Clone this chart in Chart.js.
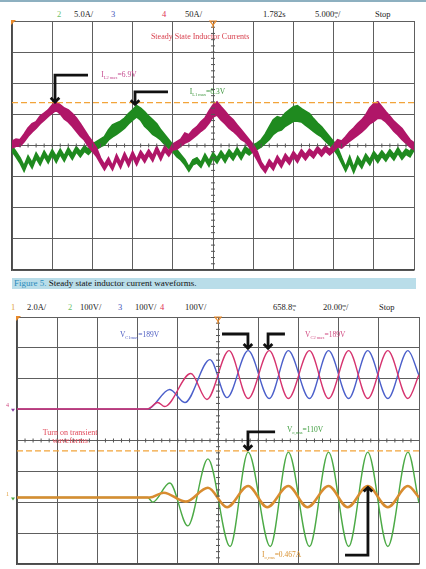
<!DOCTYPE html>
<html>
<head>
<meta charset="utf-8">
<script src="https://cdn.jsdelivr.net/npm/chart.js@4.4.1/dist/chart.umd.min.js"></script>
<style>
  body { margin:0; width:426px; height:569px; background:#fff; position:relative; overflow:hidden; font-family:"Liberation Serif", "DejaVu Serif", serif; }
  .topline { position:absolute; left:0; top:0; width:426px; height:2px; background:#8db0c0; }
  .hdr { position:absolute; font-size:8.5px; line-height:10px; color:#222; white-space:nowrap; }
  .frac { display:inline-block; font-size:5px; line-height:4px; vertical-align:middle; text-align:center; }
  canvas { position:absolute; left:0; }
  #caption { position:absolute; left:12px; top:278px; width:404px; height:11px; background:#b9dde9; font-size:9px; line-height:11px; color:#111; white-space:nowrap; }
  #caption b { font-weight:normal; color:#2a8cbc; padding-left:2px; }
</style>
</head>
<body>
<div class="topline"></div>

<!-- top scope header -->
<div class="hdr" style="left:57px;top:9px;color:#6cbf6c">2</div>
<div class="hdr" style="left:74px;top:9px">5.0A/</div>
<div class="hdr" style="left:111px;top:9px;color:#4455bb">3</div>
<div class="hdr" style="left:162px;top:9px;color:#e03050">4</div>
<div class="hdr" style="left:185px;top:9px">50A/</div>
<div class="hdr" style="left:263px;top:9px">1.782s</div>
<div class="hdr" style="left:315px;top:9px">5.000<span class="frac">m<br>s</span>/</div>
<div class="hdr" style="left:375px;top:9px">Stop</div>
<canvas id="topScope" width="426" height="254" style="top:19px"></canvas>

<div id="caption"><b>Figure 5.</b> Steady state inductor current waveforms.</div>

<!-- bottom scope header -->
<div class="hdr" style="left:11px;top:302px;color:#e0a040">1</div>
<div class="hdr" style="left:27px;top:302px">2.0A/</div>
<div class="hdr" style="left:68px;top:302px;color:#6cbf6c">2</div>
<div class="hdr" style="left:80px;top:302px">100V/</div>
<div class="hdr" style="left:118px;top:302px;color:#4455bb">3</div>
<div class="hdr" style="left:135px;top:302px">100V/</div>
<div class="hdr" style="left:160px;top:302px;color:#e03050">4</div>
<div class="hdr" style="left:185px;top:302px">100V/</div>
<div class="hdr" style="left:273px;top:302px">658.8<span class="frac">m<br>s</span></div>
<div class="hdr" style="left:323px;top:302px">20.00<span class="frac">m<br>s</span>/</div>
<div class="hdr" style="left:379px;top:302px">Stop</div>
<canvas id="bottomScope" width="426" height="252" style="top:315px"></canvas>

<script>
// ------ TOP SCOPE: steady state inductor currents (5 ms/div, 5 A/div) ------
// samples every 0.5 ms, upper and lower edge of each (noisy) trace, in A
const topStep = 0.5;
const il2Upper = [0.7,1.0,0.9,1.8,2.8,3.5,3.8,4.7,5.2,5.7,6.5,7.0,6.5,6.0,5.7,5.1,4.4,3.5,2.5,1.5,0.6,-0.4,
  -2.0,-3.1,-2.0,-3.3,-1.5,-2.8,-1.2,-2.5,-1.0,-2.3,-0.9,-1.8,-0.7,-1.7,-0.2,-1.5,-0.1,-0.9,0.2,
  0.6,1.0,2.0,1.7,2.5,3.0,3.8,4.4,5.5,6.5,7.0,6.2,5.5,4.7,4.1,3.3,2.5,1.7,0.9,0.1,-1.0,
  -2.7,-3.6,-2.3,-3.1,-1.7,-2.7,-1.4,-2.2,-1.0,-1.8,-0.7,-1.5,-0.6,-1.2,-0.2,-0.9,-0.1,-0.7,0.1,
  0.9,0.7,1.4,2.2,2.8,3.5,4.1,4.9,6.0,6.7,7.0,6.2,5.4,4.7,3.9,3.3,2.7,1.8,0.9,0.4];
const il2Lower = [-0.4,-0.1,-0.1,0.6,1.5,2.2,2.8,3.5,4.1,4.7,5.2,5.7,5.1,4.3,3.8,3.1,2.3,1.5,0.9,-0.1,-0.9,-1.7,
  -2.8,-3.9,-2.8,-3.9,-2.3,-3.6,-2.0,-3.3,-1.8,-3.1,-1.7,-2.7,-1.5,-2.5,-1.0,-2.3,-0.9,-1.7,-0.7,
  -0.6,-0.1,0.4,0.7,1.2,1.7,2.3,2.8,3.6,4.6,4.9,4.1,3.5,2.8,2.3,1.7,1.0,0.6,-0.2,-1.2,-2.3,
  -3.5,-4.3,-3.1,-3.9,-2.5,-3.5,-2.2,-3.0,-1.8,-2.7,-1.5,-2.3,-1.4,-2.0,-1.0,-1.7,-0.9,-1.5,-0.9,
  -0.2,-0.4,0.2,0.7,1.2,1.7,2.2,2.8,3.5,3.9,4.4,4.3,3.8,3.1,2.3,1.7,1.0,0.4,-0.2,-0.7];
const il1Upper = [-0.1,-1.0,-2.0,-3.3,-1.7,-2.8,-1.2,-2.3,-0.9,-2.0,-0.7,-1.8,-0.6,-1.7,-0.4,-1.4,-0.2,-1.0,-0.1,-0.6,0.2,
  0.6,1.0,1.4,2.5,3.3,3.6,3.9,4.4,5.1,5.7,6.4,6.0,5.4,4.7,4.1,3.5,2.5,1.7,0.9,0.1,-0.7,
  -1.5,-2.3,-3.5,-2.3,-2.0,-2.8,-1.4,-2.5,-1.2,-2.0,-0.9,-1.8,-0.7,-1.5,-0.4,-1.4,-0.2,-0.7,0.1,
  0.4,0.9,1.8,3.0,4.1,4.6,4.4,5.2,5.7,6.2,6.4,5.9,5.5,5.1,4.3,3.6,3.0,2.2,1.4,0.6,-0.4,
  -2.0,-3.5,-1.8,-3.6,-1.8,-2.8,-1.4,-2.3,-1.0,-1.8,-0.9,-1.7,-0.7,-1.5,-0.4,-1.4,-0.6,-1.0,0.1];
const il1Lower = [-0.9,-1.8,-2.8,-4.1,-2.5,-3.6,-2.0,-3.1,-1.7,-2.8,-1.5,-2.7,-1.4,-2.5,-1.2,-2.2,-1.0,-1.8,-0.9,-1.4,-0.7,
  -0.6,-0.2,0.1,0.9,1.4,1.8,2.3,2.8,3.5,4.1,4.6,4.1,3.1,2.5,1.8,1.4,0.9,0.2,-0.4,-1.0,-1.8,
  -2.3,-3.1,-4.1,-3.1,-2.8,-3.5,-2.2,-3.3,-2.0,-2.8,-1.7,-2.7,-1.5,-2.3,-1.2,-2.2,-1.0,-1.5,-0.9,
  -0.6,-0.2,0.4,1.0,1.8,2.3,2.5,3.1,3.5,3.9,3.9,3.8,3.3,2.8,2.3,1.8,1.4,0.7,0.1,-0.6,-1.5,
  -2.8,-4.1,-2.7,-4.3,-2.7,-3.6,-2.2,-3.1,-1.8,-2.7,-1.7,-2.5,-1.5,-2.3,-1.2,-2.2,-1.4,-1.8,-0.7];
const il2Cursor = 6.9;

// ------ BOTTOM SCOPE: turn on transient (20 ms/div) ------
const vc2Time  = [0, 65, 70, 73.5, 86.5, 94.5, 105.5, 115, 125.5, 135, 145.5, 155, 165, 174.5, 184.5, 194.5, 200];
const vc2Volts = [0, 0, 21, 8, 115, 31, 189, 34, 189, 34, 189, 34, 189, 34, 189, 34, 111];
const vc1Time  = [0, 65, 76, 83.5, 96, 104.5, 115, 125.5, 135, 145.5, 155, 165, 174.5, 184.5, 194.5, 200];
const vc1Volts = [0, 0, 63, 21, 160, 37, 189, 34, 189, 34, 189, 34, 189, 34, 189, 109];
const voTime   = [0, 65, 67.5, 76, 85, 95, 106, 115, 126, 135, 145.5, 155, 165, 174.5, 184.5, 194.5, 200];
const voVolts  = [0, 0, -15, 47, -92, 125, -159, 147, -159, 147, -159, 147, -159, 147, -159, 147, -18];
const ioTime   = [0, 66, 73, 84, 95, 104.5, 115, 124.5, 135, 144.5, 155, 164.5, 174.5, 184.5, 194.5, 200];
const ioAmps   = [0, 0, 0.31, -0.27, 0.63, -0.63, 0.74, -0.63, 0.74, -0.63, 0.74, -0.63, 0.74, -0.63, 0.74, 0];
const voCursor = 151;

const serif = '"Liberation Serif", serif';

function stepped(vals) {
  return vals.map((v, i) => ({ x: i * topStep, y: v }));
}
function paired(ts, vs) {
  return ts.map((t, i) => ({ x: t, y: vs[i] }));
}

function gridAxis(min, max, step, pos) {
  return {
    type: 'linear', position: pos, min: min, max: max,
    ticks: { display: false, stepSize: step },
    grid: { color: '#5e5e5e', lineWidth: 1, drawTicks: false },
    border: { color: '#4a4a4a', width: 1.5 }
  };
}

function line(ctx, x1, y1, x2, y2) {
  ctx.beginPath(); ctx.moveTo(x1, y1); ctx.lineTo(x2, y2); ctx.stroke();
}

// center-axis minor ticks, markers, arrows and labels
const scopeExtras = {
  id: 'scopeExtras',
  afterDraw(chart, args, opts) {
    const ctx = chart.ctx, a = chart.chartArea;
    const xs = chart.scales.x, ys = chart.scales.y;
    const cx = (a.left + a.right) / 2, cy = (a.top + a.bottom) / 2;
    ctx.save();
    ctx.strokeStyle = '#555'; ctx.lineWidth = 1;
    const dx = (a.right - a.left) / 50, dy = (a.bottom - a.top) / 40;
    for (let i = 1; i < 50; i++) line(ctx, a.left + i * dx, cy - 2, a.left + i * dx, cy + 2);
    for (let i = 1; i < 40; i++) line(ctx, cx - 2, a.top + i * dy, cx + 2, a.top + i * dy);

    // trigger markers
    ctx.fillStyle = '#e8892a';
    ctx.beginPath(); ctx.moveTo(a.left - 1, a.top - 1); ctx.lineTo(a.left + 4, a.top - 1); ctx.lineTo(a.left - 1, a.top + 4); ctx.fill();
    ctx.strokeStyle = '#e8892a'; ctx.lineWidth = 1.2;
    ctx.beginPath(); ctx.moveTo(cx - 3, a.top); ctx.lineTo(cx + 3, a.top); ctx.lineTo(cx, a.top + 4); ctx.closePath(); ctx.stroke();
    line(ctx, cx, a.top + 4, cx, a.top + 7);

    // arrows
    ctx.strokeStyle = '#111'; ctx.lineWidth = 2.8; ctx.lineJoin = 'miter'; ctx.lineCap = 'butt';
    (opts.arrows || []).forEach(pts => {
      const p = pts.map(q => [xs.getPixelForValue(q[0]), ys.getPixelForValue(q[1])]);
      ctx.beginPath(); ctx.moveTo(p[0][0], p[0][1]);
      for (let i = 1; i < p.length; i++) ctx.lineTo(p[i][0], p[i][1]);
      ctx.stroke();
      const e = p[p.length - 1], s = p[p.length - 2];
      const ang = Math.atan2(e[1] - s[1], e[0] - s[0]);
      ctx.beginPath();
      ctx.moveTo(e[0] - 6 * Math.cos(ang - 0.8), e[1] - 6 * Math.sin(ang - 0.8));
      ctx.lineTo(e[0], e[1]);
      ctx.lineTo(e[0] - 6 * Math.cos(ang + 0.8), e[1] - 6 * Math.sin(ang + 0.8));
      ctx.stroke();
    });

    // labels
    ctx.textBaseline = 'middle';
    (opts.labels || []).forEach(l => {
      let x = xs.getPixelForValue(l.x);
      const y = ys.getPixelForValue(l.y);
      ctx.fillStyle = l.color;
      ctx.font = (l.size || 7.5) + 'px ' + serif;
      if (l.center) { ctx.textAlign = 'center'; ctx.fillText(l.text, x, y); return; }
      ctx.textAlign = 'left';
      ctx.fillText(l.text, x, y);
      x += ctx.measureText(l.text).width;
      if (l.sub) {
        ctx.font = '4.5px ' + serif;
        ctx.fillText(l.sub, x, y + 2.5);
        x += ctx.measureText(l.sub).width;
        ctx.font = (l.size || 7.5) + 'px ' + serif;
        ctx.fillText(l.rest, x, y);
      }
    });

    // channel ground markers on the left edge
    (opts.grounds || []).forEach(g => {
      const y = ys.getPixelForValue(g.y);
      ctx.font = '6px ' + serif; ctx.textAlign = 'left';
      ctx.fillStyle = g.color; ctx.fillText(g.text, a.left - 11, y - 3);
      ctx.fillStyle = g.mark;
      ctx.beginPath(); ctx.moveTo(a.left - 6, y); ctx.lineTo(a.left - 2, y); ctx.lineTo(a.left - 4, y + 3); ctx.fill();
    });
    ctx.restore();
  }
};

// ------ top chart ------
new Chart(document.getElementById('topScope'), {
  type: 'line',
  data: {
    datasets: [
      { data: [{ x: 0, y: il2Cursor }, { x: 50, y: il2Cursor }], borderColor: '#f2a43a', borderWidth: 1.2, borderDash: [6, 3] },
      { data: stepped(il2Upper), borderColor: '#b01668', borderWidth: 1.8, fill: false },
      { data: stepped(il2Lower), borderColor: '#b01668', borderWidth: 1.8, fill: '-1', backgroundColor: '#b01668' },
      { data: stepped(il1Upper), borderColor: '#1f8a1f', borderWidth: 1.8, fill: false },
      { data: stepped(il1Lower), borderColor: '#1f8a1f', borderWidth: 1.8, fill: '-1', backgroundColor: '#1f8a1f' }
    ]
  },
  options: {
    responsive: false, animation: false,
    layout: { padding: { left: 12, right: 12, top: 2, bottom: 3 } },
    elements: { point: { radius: 0 }, line: { tension: 0 } },
    scales: {
      x: gridAxis(0, 50, 5, 'bottom'),
      y: gridAxis(-20, 20, 5, 'left')
    },
    plugins: {
      legend: { display: false }, tooltip: { enabled: false },
      scopeExtras: {
        arrows: [
          [[9.45, 11.3], [5.35, 11.3], [5.35, 7.0]],
          [[19.4, 8.6], [15.3, 8.6], [15.3, 6.6]]
        ],
        labels: [
          { x: 23.4, y: 17.4, text: 'Steady State Inductor Currents', color: '#d8404e', size: 8, center: true },
          { x: 11.1, y: 11.3, text: 'I', sub: 'L2 max', rest: '=6.9V', color: '#c4488e' },
          { x: 22.1, y: 8.6, text: 'I', sub: 'L1 max', rest: '=6.3V', color: '#3a943a' }
        ]
      }
    }
  },
  plugins: [scopeExtras]
});

// ------ bottom chart ------
new Chart(document.getElementById('bottomScope'), {
  type: 'line',
  data: {
    datasets: [
      { data: [{ x: 0, y: voCursor }, { x: 200, y: voCursor }], yAxisID: 'yV2', borderColor: '#f2a43a', borderWidth: 1.2, borderDash: [6, 3] },
      { data: paired(ioTime, ioAmps), yAxisID: 'yA1', borderColor: '#d88c30', borderWidth: 2.6 },
      { data: paired(voTime, voVolts), yAxisID: 'yV2', borderColor: '#4caa46', borderWidth: 1.4 },
      { data: paired(vc2Time, vc2Volts), yAxisID: 'yV34', borderColor: '#d6336e', borderWidth: 1.4 },
      { data: paired(vc1Time, vc1Volts), yAxisID: 'yV34', borderColor: '#4b5fca', borderWidth: 1.4 }
    ]
  },
  options: {
    responsive: false, animation: false,
    layout: { padding: { left: 17, right: 7, top: 2, bottom: 3 } },
    elements: { point: { radius: 0 }, line: { cubicInterpolationMode: 'monotone' } },
    scales: {
      x: gridAxis(0, 200, 20, 'bottom'),
      y: gridAxis(-4, 4, 1, 'left'),
      yV34: { display: false, min: -502, max: 298 },
      yV2: { display: false, min: -215.5, max: 584.5 },
      yA1: { display: false, min: -4.31, max: 11.69 }
    },
    plugins: {
      legend: { display: false }, tooltip: { enabled: false },
      scopeExtras: {
        arrows: [
          [[102, 3.45], [114.9, 3.45], [114.9, 2.99]],
          [[133.3, 3.45], [124.9, 3.45], [124.9, 2.99]],
          [[128.4, 0.28], [114.9, 0.28], [114.9, -0.29]],
          [[163.2, -3.71], [174.6, -3.71], [174.6, -1.52]]
        ],
        labels: [
          { x: 51.2, y: 3.41, text: 'V', sub: 'C1max', rest: '=189V', color: '#4a5ac0' },
          { x: 143.3, y: 3.41, text: 'V', sub: 'C2 max', rest: '=189V', color: '#d04a80' },
          { x: 26.4, y: 0.24, text: 'Turn on transient', color: '#e04858', size: 8, center: true },
          { x: 26.4, y: -0.02, text: 'waveforms', color: '#e04858', size: 8, center: true },
          { x: 134.3, y: 0.34, text: 'V', sub: 'o,rms', rest: '=110V', color: '#3c9c3c' },
          { x: 121.9, y: -3.71, text: 'I', sub: 'o,rms', rest: '=0.467A', color: '#d8902e' }
        ],
        grounds: [
          { y: 1.03, text: '4', color: '#d04a80', mark: '#8a3aa0' },
          { y: -1.85, text: '1', color: '#e0a040', mark: '#4caa46' }
        ]
      }
    }
  },
  plugins: [scopeExtras]
});
</script>
</body>
</html>
